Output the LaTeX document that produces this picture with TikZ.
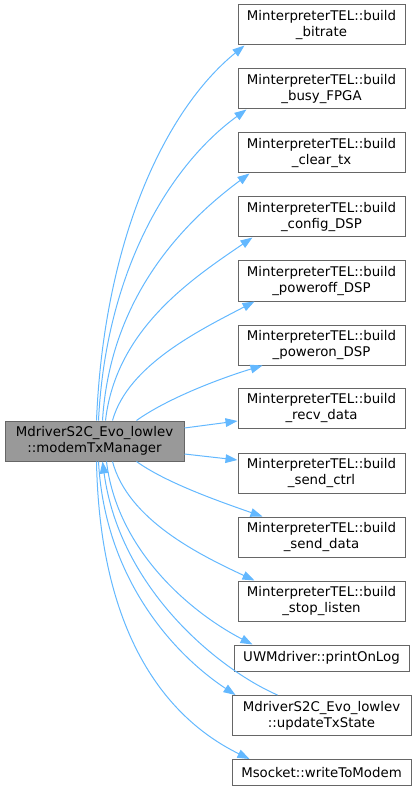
\documentclass[tikz,border=0pt]{standalone}
\usepackage{fontspec}
\setmainfont{DejaVu Sans}
\usepackage{xcolor}
\definecolor{edgeblue}{HTML}{63B8FF}
\definecolor{boxgrey}{HTML}{666666}
\definecolor{curgrey}{HTML}{999999}
\usepackage{tikz}
\usetikzlibrary{arrows.meta,calc}

\begin{document}
\begin{tikzpicture}[x=0.75pt, y=-0.75pt,
    fn/.style={rectangle, draw=boxgrey, fill=white, line width=0.75pt,
               minimum width=125.25pt, minimum height=30pt, inner sep=0pt,
               align=center, font=\fontsize{10}{12}\selectfont},
    fnone/.style={fn, minimum height=19.5pt},
    cur/.style={fn, fill=curgrey, minimum width=134.25pt},
    call/.style={-{Triangle[length=9pt,width=6.5pt]}, edgeblue, line width=0.75pt},
  ]
    \useasboundingbox (0,0) rectangle (417,791);

    % caller
    \node[cur] (mgr) at (94.5,441) {MdriverS2C\_Evo\_lowlev\\::modemTxManager};

    % callees
    \node[fn] (bitrate)  at (321.5,25)  {MinterpreterTEL::build\\\_bitrate};
    \node[fn] (busy)     at (321.5,89)  {MinterpreterTEL::build\\\_busy\_FPGA};
    \node[fn] (cleartx)  at (321.5,153) {MinterpreterTEL::build\\\_clear\_tx};
    \node[fn] (config)   at (321.5,217) {MinterpreterTEL::build\\\_config\_DSP};
    \node[fn] (poweroff) at (321.5,281) {MinterpreterTEL::build\\\_poweroff\_DSP};
    \node[fn] (poweron)  at (321.5,345) {MinterpreterTEL::build\\\_poweron\_DSP};
    \node[fn] (recv)     at (321.5,408.5) {MinterpreterTEL::build\\\_recv\_data};
    \node[fn] (sendctrl) at (321.5,473) {MinterpreterTEL::build\\\_send\_ctrl};
    \node[fn] (senddata) at (321.5,537) {MinterpreterTEL::build\\\_send\_data};
    \node[fn] (stoplisten) at (321.5,601) {MinterpreterTEL::build\\\_stop\_listen};
    \node[fnone, minimum width=131.25pt] (printlog) at (321.5,658) {UWMdriver::printOnLog};
    \node[fn, minimum width=134.25pt] (update) at (321.5,715.5) {MdriverS2C\_Evo\_lowlev\\::updateTxState};
    \node[fnone, minimum width=134.25pt] (writemodem) at (321.5,772.5) {Msocket::writeToModem};

    % calls going up
    \draw[call] ($(mgr.north west)+(92,0)$) .. controls (104,240) and (165,110) .. ($(bitrate.south west)+(7,0)$);
    \draw[call] ($(mgr.north west)+(94,0)$) .. controls (106,270) and (170,165) .. ($(busy.south west)+(9,0)$);
    \draw[call] ($(mgr.north west)+(98,0)$) .. controls (110,300) and (180,225) .. ($(cleartx.south west)+(12,0)$);
    \draw[call] ($(mgr.north west)+(101,0)$) .. controls (116,330) and (190,280) .. ($(config.south west)+(15,0)$);
    \draw[call] ($(mgr.north west)+(108,0)$) .. controls (128,365) and (200,330) .. ($(poweroff.south west)+(17,0)$);
    \draw[call] ($(mgr.north west)+(132,0)$) .. controls (165,400) and (215,380) .. ($(poweron.south west)+(25,0)$);

    % calls to the side
    \draw[call] ($(mgr.east)+(0,-13)$) -- ($(recv.west)+(0,12.5)$);
    \draw[call] ($(mgr.east)+(0,13)$) -- ($(sendctrl.west)+(0,-13)$);

    % calls going down
    \draw[call] ($(mgr.south west)+(132,0)$) .. controls (165,482) and (215,500) .. ($(senddata.north west)+(25,0)$);
    \draw[call] ($(mgr.south west)+(108,0)$) .. controls (128,520) and (200,555) .. ($(stoplisten.north west)+(17,0)$);
    \draw[call] ($(mgr.south west)+(102,0)$) .. controls (117,550) and (190,612) .. ($(printlog.north west)+(19,0)$);
    \draw[call] ($(mgr.south west)+(94,0)$) .. controls (105,580) and (175,655) .. ($(update.north west)+(4,0)$);
    \draw[call] ($(mgr.south west)+(92,0)$) .. controls (100,640) and (170,720) .. ($(writemodem.north west)+(18,0)$);

    % call back
    \draw[call] ($(update.north west)+(46,0)$) .. controls (220,670) and (120,590) .. ($(mgr.south west)+(98,0)$);
  \end{tikzpicture}
\end{document}
